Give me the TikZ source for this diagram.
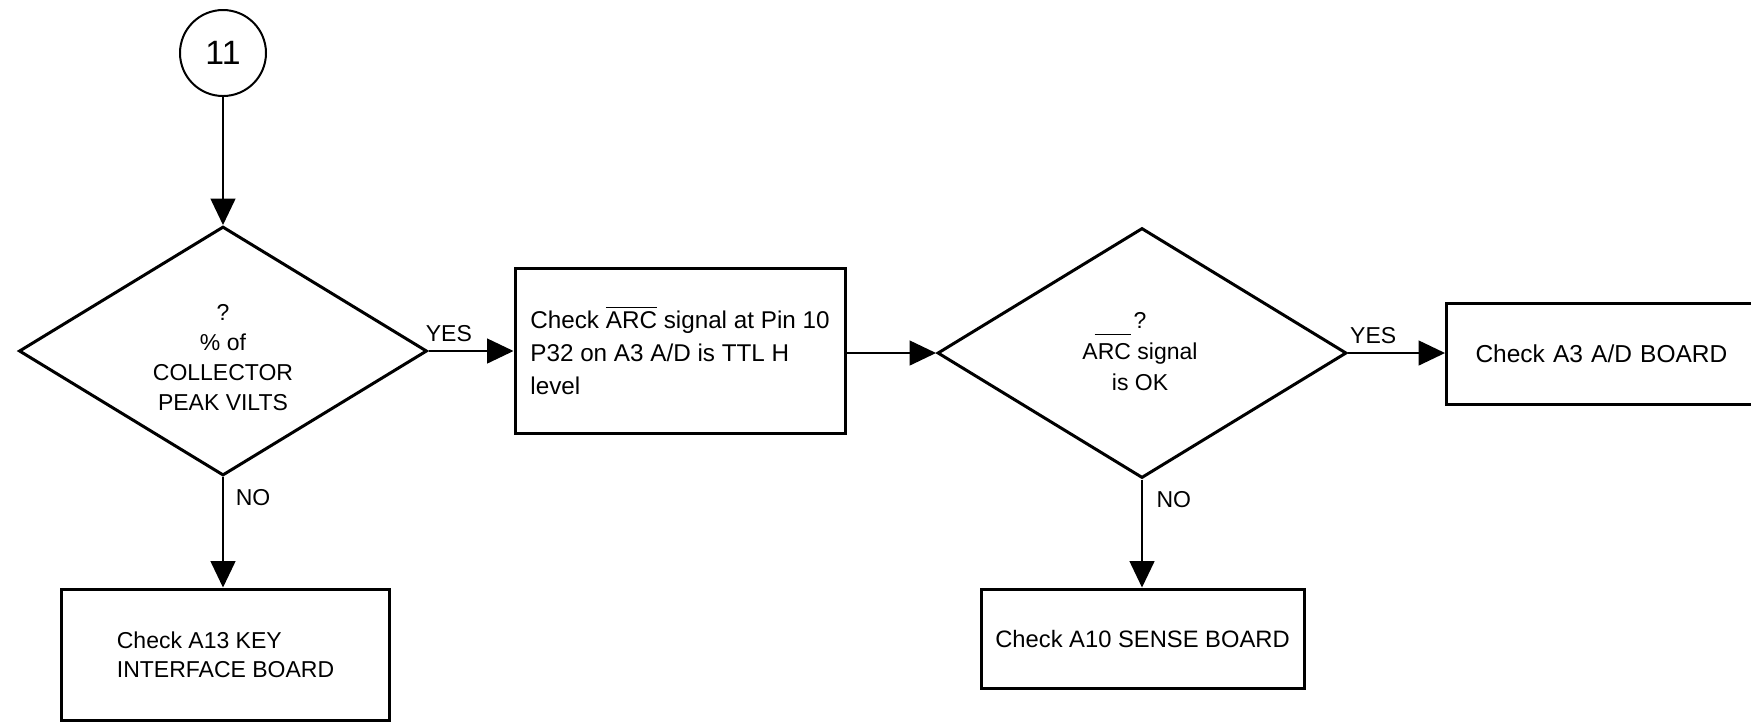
\documentclass[tikz,border=0pt]{standalone}
\usepackage{fontspec}
\setmainfont{Liberation Sans}
\usetikzlibrary{shapes.geometric,arrows.meta}
\begin{document}
\begin{tikzpicture}[x=0.4pt,y=-0.4pt,
  every node/.style={font=\fontsize{9.2}{12.4}\selectfont},
  box/.style={draw, line width=1.2pt, rectangle, inner sep=0pt},
  dia/.style={draw, line width=1.2pt, diamond, inner sep=0pt},
  conn/.style={line width=0.6pt, -{Triangle[length=10.6pt,width=10pt]}},
  lbl/.style={inner sep=0pt}]
\useasboundingbox (0,0) rectangle (1751,723);
\clip (0,0) rectangle (1751,723);

\node[circle, draw, line width=0.8pt, minimum size=34.4pt, inner sep=0pt,
      font=\fontsize{13.5}{13.5}\selectfont] (c11) at (223,53) {11};

\node[dia, minimum width=163.2pt, minimum height=99.6pt] (d1) at (223,351) {};
\node[align=center, font=\fontsize{9.2}{12}\selectfont] (d1t) at (223,358)
  {?\\\% of\\COLLECTOR\\PEAK VILTS};

\node[box, minimum width=132pt, minimum height=66pt, align=left,
      font=\fontsize{9.7}{13.2}\selectfont] (b1) at (680,350.5)
  {Check \(\overline{\mbox{ARC}}\) signal at Pin 10\\P32 on A3 A/D is TTL H\\level};

\node[dia, minimum width=163.6pt, minimum height=100pt] (d2) at (1142,353) {};
\node[align=center] (d2t) at (1140,352)
  {\llap{\rule[-2.4pt]{14.4pt}{0.5pt}\hspace{1.2pt}}?\\ARC signal\\is OK};

\node[box, anchor=west, minimum height=40.4pt, text width=124pt,
      inner xsep=11.6pt, align=left, font=\fontsize{9.8}{12.4}\selectfont]
  (b2) at (1445,353.5) {Check A3 A/D BOARD};

\node[box, minimum width=130.8pt, minimum height=52.4pt, align=left,
      font=\fontsize{9.2}{11.6}\selectfont] (b3) at (225.5,654.5)
  {Check A13 KEY\\INTERFACE BOARD};

\node[box, minimum width=129.2pt, minimum height=39.6pt,
      font=\fontsize{9.5}{12.4}\selectfont] (b4) at (1142.5,638.5)
  {Check A10 SENSE BOARD};

\draw[conn] (c11) -- (d1.north);
\draw[conn] (d1.east) -- node[lbl, above, pos=0.24, yshift=3.5pt] (yes1) {YES} (d1.east -| b1.west);
\draw[conn] (b1.east |- d2.west) -- (d2.west);
\draw[conn] (d2.east) -- node[lbl, above, pos=0.26, yshift=3.5pt] (yes2) {YES} (d2.east -| b2.west);
\draw[conn] (d1.south) -- node[lbl, right, pos=0.19, xshift=4.8pt] (no1) {NO} (d1.south |- b3.north);
\draw[conn] (d2.south) -- node[lbl, right, pos=0.19, xshift=5.5pt] (no2) {NO} (d2.south |- b4.north);
\end{tikzpicture}
\end{document}
